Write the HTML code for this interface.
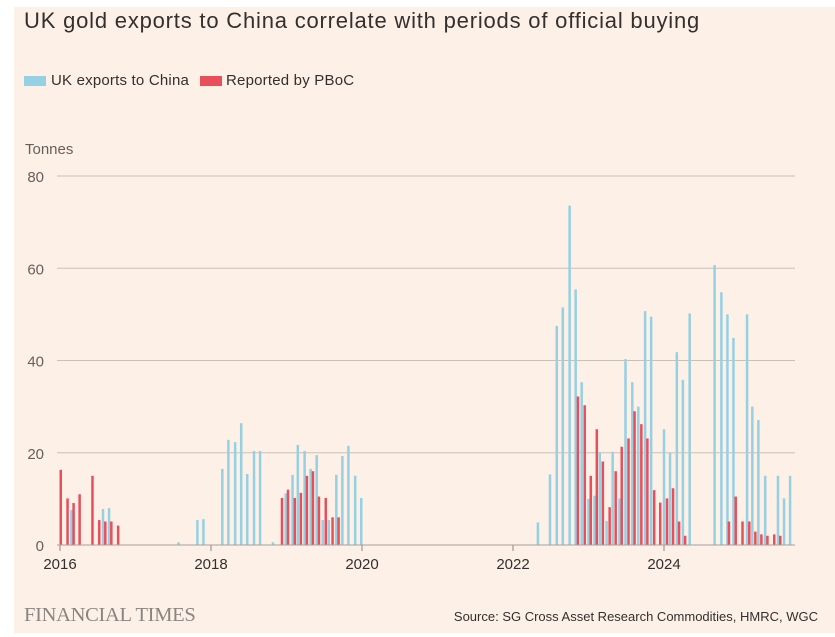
<!DOCTYPE html>
<html><head><meta charset="utf-8"><style>
html,body{margin:0;padding:0;background:#fff;}
#wrap{position:relative;width:835px;height:637px;overflow:hidden;background:#fff;}
#bg{position:absolute;left:14px;top:7px;width:821px;height:626px;background:#fdf0e6;}
.t{position:absolute;font-family:"Liberation Sans",sans-serif;color:#33302e;white-space:nowrap;}
</style></head><body>
<div id="wrap">
<div id="bg"></div>
<div class="t" style="left:24px;top:8px;font-size:22px;letter-spacing:0.8px;">UK gold exports to China correlate with periods of official buying</div>
<div style="position:absolute;left:24px;top:76px;width:22px;height:10px;background:#96d0e3"></div>
<div class="t" style="left:51px;top:72px;font-size:15px;letter-spacing:0.2px;">UK exports to China</div>
<div style="position:absolute;left:200px;top:76px;width:22px;height:10px;background:#e94f5b"></div>
<div class="t" style="left:226px;top:72px;font-size:15px;letter-spacing:0.2px;">Reported by PBoC</div>
<div class="t" style="left:25px;top:141px;font-size:15px;color:#66605c;">Tonnes</div>
<svg id="chart" width="835" height="637" style="position:absolute;left:0;top:0"></svg>
<div class="t" style="left:24px;top:604px;font-size:20.5px;font-family:'Liberation Serif',serif;color:#8a8580;letter-spacing:-0.3px;">FINANCIAL TIMES</div>
<div class="t" style="right:17px;top:609px;font-size:13px;color:#33302e;">Source: SG Cross Asset Research Commodities, HMRC, WGC</div>
</div>
<script>
const yTicks=[0,20,40,60,80];
const xTicks=[2016,2018,2020,2022,2024];
const ukDates=[2016.15,2016.57,2016.65,2017.57,2017.82,2017.90,2018.15,2018.23,2018.32,2018.40,2018.48,2018.57,2018.65,2018.82,2018.99,2019.08,2019.15,2019.24,2019.32,2019.40,2019.48,2019.56,2019.66,2019.74,2019.82,2019.91,2019.99,2022.33,2022.49,2022.58,2022.66,2022.75,2022.83,2022.91,2023.00,2023.08,2023.15,2023.24,2023.32,2023.41,2023.49,2023.58,2023.66,2023.75,2023.83,2024.00,2024.08,2024.17,2024.25,2024.34,2024.67,2024.76,2024.84,2024.92,2025.10,2025.17,2025.25,2025.34,2025.51,2025.59,2025.67];
const ukValues=[7.6,7.8,8,0.6,5.4,5.6,16.5,22.8,22.3,26.4,15.4,20.4,20.4,0.6,11.2,15.2,21.7,20.4,16.5,19.5,5.4,5.4,15.2,19.3,21.5,15,10.2,4.9,15.3,47.5,51.5,73.6,55.4,35.3,10,10.7,20.1,5.2,20.2,10.1,40.3,35.3,30,50.7,49.5,25.1,20,41.8,35.8,50.2,60.7,54.8,50,44.9,50,30,27.1,15,15,10.1,15];
const pbocDates=[2016.01,2016.10,2016.18,2016.26,2016.43,2016.52,2016.60,2016.68,2016.77,2018.94,2019.02,2019.11,2019.19,2019.27,2019.35,2019.43,2019.52,2019.61,2019.69,2022.86,2022.95,2023.03,2023.11,2023.19,2023.28,2023.36,2023.44,2023.53,2023.61,2023.70,2023.78,2023.87,2023.95,2024.04,2024.12,2024.20,2024.28,2024.86,2024.95,2025.04,2025.13,2025.21,2025.29,2025.37,2025.46,2025.54];
const pbocValues=[16.3,10.1,9.1,11,15,5.4,5.1,5.1,4.2,10.2,12,10.2,11.3,15,16,10.5,10.2,6,6,32.2,30.3,15,25.1,18.1,8.2,16,21.3,23.1,29,26.2,23.1,11.9,9.2,10.1,12.3,5.1,2,5.1,10.5,5.1,5.1,2.9,2.3,2,2.3,2];

const svg=document.getElementById('chart');
const NS='http://www.w3.org/2000/svg';
function xs(t){return 60+(t-2016)*75.5;}
function ys(v){return 545-v*4.6125;}
function mk(tag,attrs){const e=document.createElementNS(NS,tag);for(const k in attrs)e.setAttribute(k,attrs[k]);svg.appendChild(e);return e;}
yTicks.forEach(v=>{
  if(v>0){const g=mk('line',{x1:57,x2:795,y1:ys(v),y2:ys(v),stroke:'#c9c1b8','stroke-width':1});
  
  }
  const l=mk('text',{x:44,y:ys(v)+6,'text-anchor':'end','font-size':15,fill:'#66605c','font-family':'Liberation Sans, sans-serif'});
  l.textContent=v;
  
  
});
xTicks.forEach(t=>{
  const tk=mk('line',{x1:xs(t),x2:xs(t),y1:545,y2:551,stroke:'#8a8580','stroke-width':1});
  
  
  const l=mk('text',{x:xs(t),y:569,'text-anchor':'middle','font-size':15,fill:'#33302e','font-family':'Liberation Sans, sans-serif'});
  l.textContent=t;
  
  
});
ukDates.forEach((t,i)=>{
  const r=mk('rect',{x:xs(t)-1.25,y:ys(ukValues[i]),width:2.5,height:545-ys(ukValues[i]),fill:'#96d0e3'});
  
  
});
pbocDates.forEach((t,i)=>{
  const r=mk('rect',{x:xs(t)-1.25,y:ys(pbocValues[i]),width:2.5,height:545-ys(pbocValues[i]),fill:'#e94f5b'});
  
  
});
const base=mk('line',{x1:57,x2:795,y1:545,y2:545,stroke:'#a8a19a','stroke-width':1});


</script>
</body></html>
